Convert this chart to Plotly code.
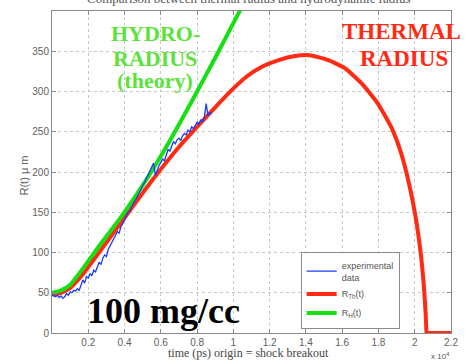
import plotly.graph_objects as go

# ---------------- data (x in units of 10^4 ps, R in micrometres) ----------------
exp_x = [round(i * 0.01, 2) for i in range(89)]
exp_r = [47, 46, 45, 47, 44, 46, 43, 45, 49, 47,
         51, 50, 53, 52, 55, 53, 60, 66, 62, 70,
         68, 74, 71, 78, 76, 82, 88, 85, 93, 97,
         95, 104, 108, 112, 117, 121, 126, 124, 132, 136,
         140, 146, 150, 152, 158, 162, 165, 170, 174, 178,
         183, 187, 192, 196, 200, 206, 211, 196, 203, 208,
         212, 216, 214, 222, 228, 226, 233, 238, 235, 240,
         242, 239, 245, 248, 246, 252, 250, 256, 254, 258,
         262, 259, 265, 262, 268, 285, 270, 274, 272]

th_x = [0.0, 0.05, 0.1, 0.17, 0.25, 0.39, 0.54, 0.7, 0.87, 0.97, 1.07, 1.16,
        1.25, 1.34, 1.42, 1.523, 1.615, 1.707, 1.794, 1.87, 1.924, 1.968,
        2.005, 2.033, 2.049, 2.06, 2.065]
th_r = [48, 50, 56, 73, 97, 140, 186, 231, 273, 297, 318, 331,
        339, 344, 345, 339, 329, 310, 286, 256, 224, 186,
        144, 99, 62, 25, 0]
th_tail_x = [2.065, 2.2]
th_tail_r = [0, 0]

h_x = [0.0, 0.05, 0.1, 0.17, 0.25, 0.39, 0.53, 0.66, 0.8, 0.9, 1.035, 1.07]
h_r = [50, 53, 60, 80, 105, 147, 194, 243, 300, 342, 400, 415]

y_ticks = [0, 50, 100, 150, 200, 250, 300, 350]
x_ticks = [0.2, 0.4, 0.6, 0.8, 1.0, 1.2, 1.4, 1.6, 1.8, 2.0, 2.2]
x_tick_text = ["0.2", "0.4", "0.6", "0.8", "1", "1.2", "1.4", "1.6", "1.8", "2", "2.2"]

# ---------------- layout helpers ----------------
W, H = 466, 361
L, R, T, B = 52, 458, 11, 333


def px(x):
    return (x - L) / (R - L)


def py(y):
    return (B - y) / (B - T)


RED = "#ff2a12"
GREEN = "#14e014"
BLUE = "#1a3cff"

fig = go.Figure()
fig.add_trace(go.Scatter(x=th_x, y=th_r, mode="lines", name="R<sub>Th</sub>(t)",
                         line=dict(color=RED, width=4, shape="spline", smoothing=0.5),
                         legendrank=2))
fig.add_trace(go.Scatter(x=th_tail_x, y=th_tail_r, mode="lines", showlegend=False,
                         line=dict(color=RED, width=4)))
fig.add_trace(go.Scatter(x=h_x, y=h_r, mode="lines", name="R<sub>H</sub>(t)",
                         line=dict(color=GREEN, width=4, shape="spline", smoothing=0.6),
                         legendrank=3))
fig.add_trace(go.Scatter(x=exp_x, y=exp_r, mode="lines", name="experimental<br>data",
                         line=dict(color=BLUE, width=1.3), legendrank=1))

grid = "#c8c8c8"
axis_common = dict(showline=True, linecolor="#8a8a8a", linewidth=1, mirror="ticks",
                   ticks="inside", ticklen=4, tickcolor="#8a8a8a",
                   showgrid=True, gridcolor=grid, griddash="dot", gridwidth=1,
                   zeroline=False,
                   tickfont=dict(family="Liberation Sans", size=10, color="#606060"))

fig.update_layout(
    width=W, height=H,
    margin=dict(l=L, r=W - R, t=T, b=H - B),
    paper_bgcolor="white", plot_bgcolor="white",
    showlegend=True,
    legend=dict(x=px(305), y=py(252), xanchor="left", yanchor="top",
                bgcolor="white", bordercolor="#8a8a8a", borderwidth=1,
                font=dict(family="Liberation Sans", size=9, color="#555555"),
                itemwidth=30, tracegroupgap=0),
    xaxis=dict(range=[0, 2.2], tickvals=x_ticks, ticktext=x_tick_text, **axis_common),
    yaxis=dict(range=[0, 400], tickvals=y_ticks, **axis_common),
)

ann = []
serif = "Liberation Serif"
green_t = "#5ce33a"
red_t = "#ff2a14"
for text, cx, cy in [("HYDRO-", 157, 34), ("RADIUS", 157, 58), ("(theory)", 157, 81)]:
    ann.append(dict(text=f"<b>{text}</b>", x=px(cx), y=py(cy), xref="paper", yref="paper",
                    showarrow=False, xanchor="center", yanchor="middle",
                    font=dict(family=serif, size=22, color=green_t)))
for text, cx, cy in [("THERMAL", 408, 31), ("RADIUS", 410, 59)]:
    ann.append(dict(text=f"<b>{text}</b>", x=px(cx), y=py(cy), xref="paper", yref="paper",
                    showarrow=False, xanchor="center", yanchor="middle",
                    font=dict(family=serif, size=23, color=red_t)))
ann.append(dict(text="<b>100 mg/cc</b>", x=px(165), y=py(311), xref="paper", yref="paper",
                showarrow=False, xanchor="center", yanchor="middle",
                font=dict(family=serif, size=36, color="black")))
ann.append(dict(text="Comparison between thermal radius and hydrodynamic radius",
                x=px(252), y=py(8), xref="paper", yref="paper", showarrow=False,
                xanchor="center", yanchor="bottom",
                font=dict(family=serif, size=13, color="#555555")))
ann.append(dict(text="time (ps) origin = shock breakout", x=px(252), y=py(353),
                xref="paper", yref="paper", showarrow=False, xanchor="center", yanchor="middle",
                font=dict(family=serif, size=12, color="#454545")))
ann.append(dict(text="x 10<sup>4</sup>", x=px(447), y=py(356), xref="paper", yref="paper",
                showarrow=False, xanchor="center", yanchor="middle",
                font=dict(family="Liberation Sans", size=8, color="#555555")))
ann.append(dict(text="R(t) μ m", x=px(23), y=py(176), xref="paper", yref="paper",
                showarrow=False, xanchor="center", yanchor="middle", textangle=-90,
                font=dict(family="Liberation Sans", size=11, color="#606060")))
fig.update_layout(annotations=ann)

fig.write_html("out.html")
